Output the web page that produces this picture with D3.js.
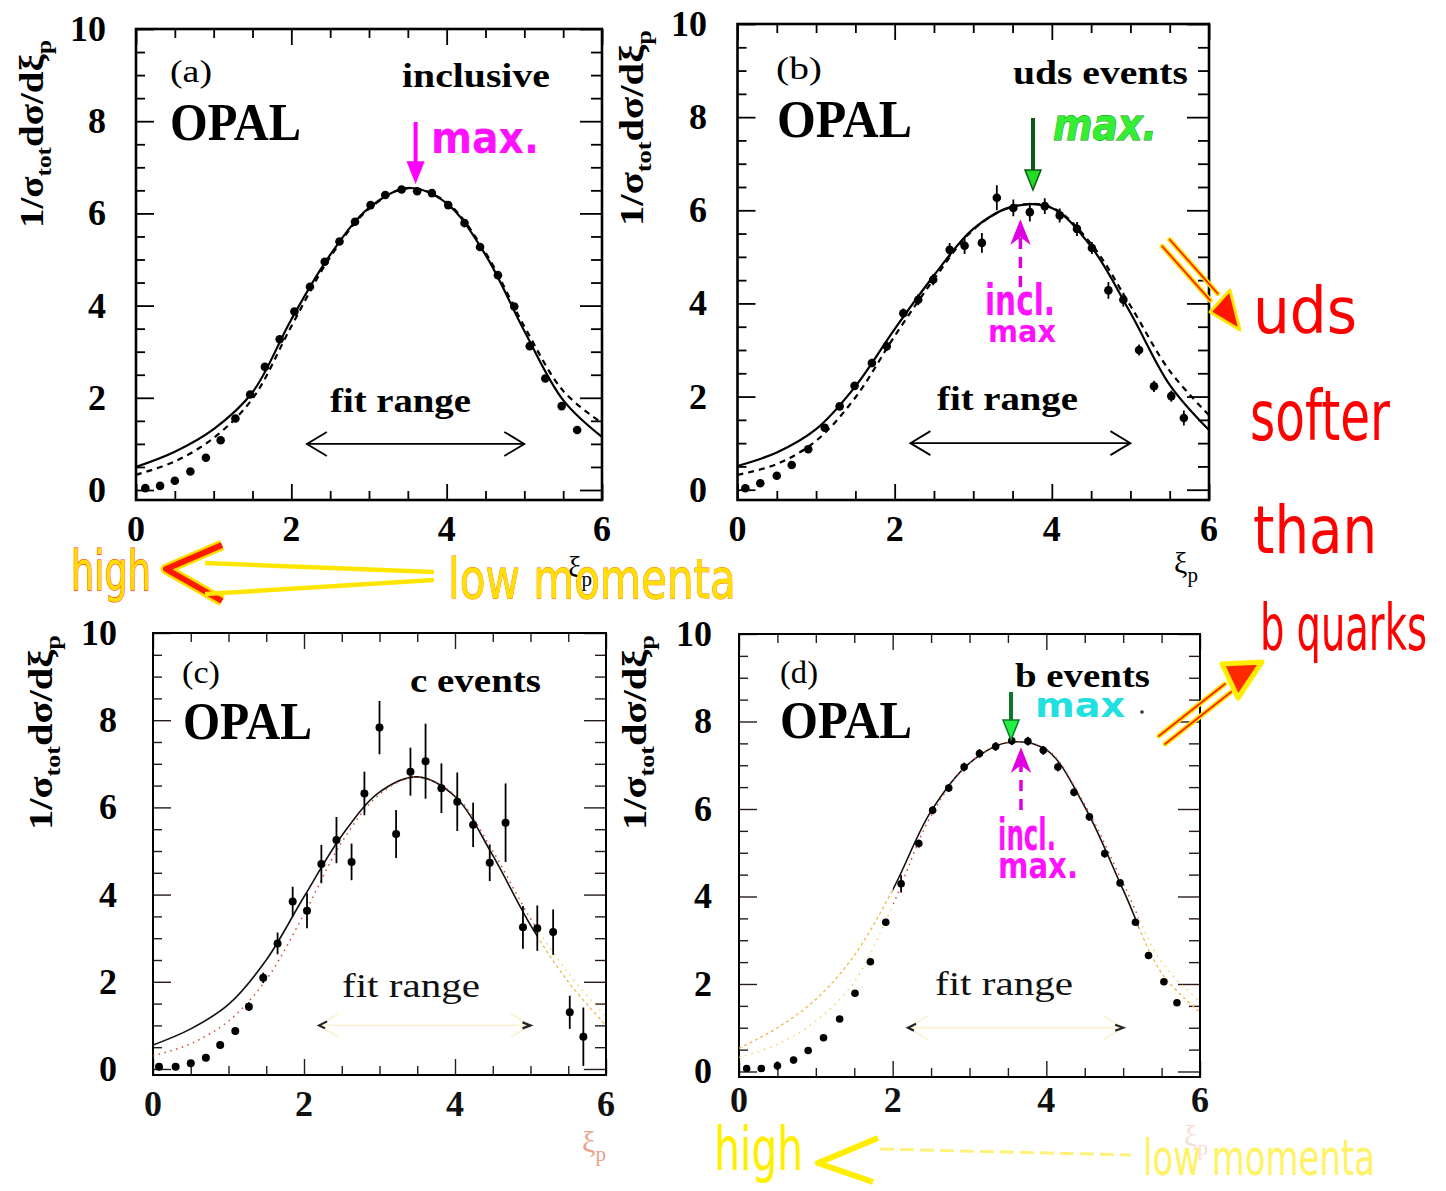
<!DOCTYPE html>
<html>
<head>
<meta charset="utf-8">
<script src="https://cdn.jsdelivr.net/npm/d3@7"></script>
<style>
  body { margin: 0; background: #fff; }
  svg { display: block; }
</style>
</head>
<body>
<svg id="fig" width="1446" height="1191"></svg>
<script>
// ---- measured spectra: ξp positions and 1/σ dσ/dξp ----
const inclusiveXi   = [0.12, 0.31, 0.50, 0.70, 0.90, 1.09, 1.28, 1.47, 1.66, 1.85, 2.04, 2.24, 2.43, 2.62, 2.82,
                       3.02, 3.21, 3.42, 3.62, 3.81, 4.02, 4.23, 4.43, 4.66, 4.87, 5.07, 5.27, 5.48, 5.68];
const inclusiveVals = [0.04, 0.09, 0.20, 0.40, 0.70, 1.08, 1.55, 2.07, 2.67, 3.27, 3.87, 4.41, 4.95, 5.39, 5.82,
                       6.18, 6.40, 6.52, 6.48, 6.44, 6.18, 5.79, 5.27, 4.66, 3.98, 3.12, 2.42, 1.82, 1.30];

const udsXi   = [0.10, 0.29, 0.50, 0.69, 0.90, 1.11, 1.30, 1.49, 1.71, 1.90, 2.11, 2.30, 2.49, 2.70, 2.89,
                 3.11, 3.30, 3.51, 3.72, 3.91, 4.10, 4.32, 4.51, 4.72, 4.91, 5.11, 5.30, 5.52, 5.68];
const udsVals = [0.03, 0.14, 0.30, 0.53, 0.87, 1.33, 1.79, 2.23, 2.72, 3.08, 3.79, 4.08, 4.51, 5.15, 5.24,
                 5.30, 6.27, 6.05, 5.96, 6.09, 5.89, 5.60, 5.19, 4.28, 4.08, 3.00, 2.22, 2.01, 1.54];
const udsErr  = [0.03, 0.04, 0.05, 0.06, 0.07, 0.08, 0.08, 0.08, 0.09, 0.10, 0.10, 0.12, 0.12, 0.15, 0.18,
                 0.21, 0.27, 0.18, 0.20, 0.17, 0.15, 0.15, 0.13, 0.18, 0.15, 0.12, 0.12, 0.12, 0.16];

const charmXi   = [0.08, 0.30, 0.50, 0.70, 0.89, 1.09, 1.27, 1.46, 1.65, 1.85, 2.04, 2.23, 2.43, 2.63, 2.80,
                   3.00, 3.22, 3.41, 3.61, 3.82, 4.03, 4.24, 4.46, 4.67, 4.90, 5.09, 5.30, 5.52, 5.70];
const charmVals = [0.05, 0.05, 0.13, 0.26, 0.55, 0.87, 1.43, 2.09, 2.88, 3.84, 3.63, 4.70, 5.25, 4.75, 6.32,
                   7.83, 5.39, 6.82, 7.06, 6.44, 6.13, 5.60, 4.73, 5.65, 3.25, 3.23, 3.14, 1.30, 0.74];
const charmErr  = [0.02, 0.02, 0.03, 0.04, 0.05, 0.07, 0.10, 0.12, 0.25, 0.34, 0.40, 0.44, 0.53, 0.42, 0.50,
                   0.61, 0.55, 0.55, 0.86, 0.57, 0.67, 0.51, 0.42, 0.90, 0.49, 0.52, 0.52, 0.38, 0.67];

const bottomXi   = [0.10, 0.29, 0.50, 0.71, 0.90, 1.10, 1.31, 1.51, 1.71, 1.91, 2.11, 2.34, 2.52, 2.73, 2.93,
                    3.13, 3.34, 3.55, 3.76, 3.96, 4.15, 4.36, 4.56, 4.76, 4.96, 5.16, 5.33, 5.53, 5.70];
const bottomVals = [0.07, 0.07, 0.13, 0.26, 0.48, 0.77, 1.20, 1.79, 2.51, 3.41, 4.29, 5.21, 5.97, 6.48, 6.96,
                    7.27, 7.43, 7.56, 7.55, 7.34, 6.96, 6.38, 5.82, 4.98, 4.31, 3.41, 2.65, 2.05, 1.57];
const bottomErr  = [0.03, 0.03, 0.10, 0.04, 0.05, 0.05, 0.06, 0.06, 0.07, 0.08, 0.20, 0.09, 0.09, 0.09, 0.10,
                    0.10, 0.10, 0.10, 0.10, 0.10, 0.10, 0.09, 0.09, 0.09, 0.08, 0.08, 0.08, 0.07, 0.07];

// ---- fitted curves (solid) and alternative fits (dashed), sampled in ξp ----
const curveXi = [0, 0.5, 1, 1.5, 2, 2.5, 3, 3.5, 4, 4.5, 5, 5.5, 6];
const inclusiveFit    = [0.50, 0.83, 1.32, 2.12, 3.70, 5.10, 6.12, 6.55, 6.22, 5.10, 3.45, 1.95, 1.15];
const inclusiveFitAlt = [0.33, 0.62, 1.13, 1.98, 3.55, 5.05, 6.10, 6.55, 6.24, 5.15, 3.55, 2.15, 1.45];
const udsFit          = [0.51, 0.80, 1.30, 2.22, 3.45, 4.60, 5.60, 6.08, 6.05, 5.22, 3.80, 2.25, 1.28];
const udsFitAlt       = [0.32, 0.55, 1.05, 1.98, 3.30, 4.52, 5.58, 6.08, 6.06, 5.28, 3.95, 2.55, 1.60];
const charmFit        = [0.55, 0.92, 1.48, 2.50, 3.95, 5.35, 6.35, 6.70, 6.25, 4.90, 3.30, 2.00, 1.00];
const charmFitAlt     = [0.30, 0.58, 1.10, 2.05, 3.55, 5.20, 6.30, 6.70, 6.28, 5.00, 3.45, 2.20, 1.20];
const bottomFit       = [0.53, 1.00, 1.65, 2.65, 4.15, 5.95, 7.05, 7.52, 7.35, 6.05, 4.15, 2.25, 1.35];
const bottomFitAlt    = [0.32, 0.62, 1.15, 2.05, 3.80, 5.85, 7.05, 7.52, 7.37, 6.10, 4.30, 2.50, 1.60];

// ---- axes ----
const xTickLabels = [0, 2, 4, 6];
const yTickLabels = [0, 2, 4, 6, 8, 10];
const xMinorTicks = [0.5, 1, 1.5, 2.5, 3, 3.5, 4.5, 5, 5.5];
const yMinorTicks = [0.5, 1, 1.5, 2.5, 3, 3.5, 4.5, 5, 5.5, 6.5, 7, 7.5, 8.5, 9, 9.5];
const fitRange = [2.2, 5.0];
const fitArrowLevel = 1.0;

// positions of the fitted maxima marked by hand
const inclusivePeakXi = 3.6;
const udsPeakXi = 3.76;
const bottomPeakXi = 3.54;
const inclusivePeakInB = 3.67;

const svg = d3.select("#fig");
const serif = "'Liberation Serif', 'DejaVu Serif', serif";
const hand = "'DejaVu Sans', sans-serif";

// place a text so its natural width is stretched/compressed to `len`
function fitWidth(sel, x, y, len) {
  const w = sel.node().getComputedTextLength();
  sel.attr("x", 0).attr("y", 0).attr("transform", `translate(${x},${y}) scale(${len / w},1)`);
  return sel;
}

const panels = [
  { id: "a", tag: "(a)", title: "inclusive", xs: inclusiveXi, vals: inclusiveVals, err: null,
    fit: inclusiveFit, alt: inclusiveFitAlt, altDash: "6,5",
    box: { l: 136, r: 602, t: 29, b: 500 }, yMin: -0.217, r: 4.3, lw: 2.2,
    tagPos: [170, 82, 42], opalPos: [170, 140, 131], titlePos: [402, 87, 148], fitPos: [330, 412, 141],
    yLabX: 106, xLabY: 541, yTitle: [43, 228, 188], xi: [568, 577], faded: false },
  { id: "b", tag: "(b)", title: "uds events", xs: udsXi, vals: udsVals, err: udsErr,
    fit: udsFit, alt: udsFitAlt, altDash: "6,5",
    box: { l: 737.5, r: 1209, t: 24, b: 500 }, yMin: -0.221, r: 4.3, lw: 2.2,
    tagPos: [776, 79, 46], opalPos: [777, 137, 135], titlePos: [1013, 84, 175], fitPos: [937, 410, 141],
    yLabX: 707, xLabY: 541, yTitle: [643, 226, 196], xi: [1174, 573], faded: false },
  { id: "c", tag: "(c)", title: "c events", xs: charmXi, vals: charmVals, err: charmErr,
    fit: charmFit, alt: charmFitAlt, altDash: "1.5,4.5",
    box: { l: 153, r: 606, t: 633, b: 1075 }, yMin: -0.138, r: 4.0, lw: 1.6,
    tagPos: [182, 683, 38], opalPos: [183, 739, 129], titlePos: [410, 692, 131], fitPos: [342, 997, 138],
    yLabX: 117, xLabY: 1116, yTitle: [52, 830, 195], xi: [582, 1152], faded: true, fade: [[5.1, 6]] },
  { id: "d", tag: "(d)", title: "b events", xs: bottomXi, vals: bottomVals, err: bottomErr,
    fit: bottomFit, alt: bottomFitAlt, altDash: "1.5,4.5",
    box: { l: 739, r: 1200, t: 634, b: 1077 }, yMin: -0.126, r: 3.8, lw: 1.6,
    tagPos: [780, 683, 38], opalPos: [780, 738, 132], titlePos: [1015, 687, 135], fitPos: [935, 995, 138],
    yLabX: 712, xLabY: 1112, yTitle: [646, 830, 195], xi: [1184, 1146], faded: true, fade: [[0, 2.0], [5.2, 6]] }
];

const defs = svg.append("defs");

panels.forEach(p => {
  const { l, r, t, b } = p.box;
  const x = d3.scaleLinear().domain([0, 6]).range([l, r]);
  const y = d3.scaleLinear().domain([p.yMin, 10]).range([b, t]);
  p.x = x; p.y = y;
  const g = svg.append("g").attr("class", "panel-" + p.id);

  // clip to the frame
  defs.append("clipPath").attr("id", "clip-" + p.id)
    .append("rect").attr("x", l).attr("y", t).attr("width", r - l).attr("height", b - t);

  // inward ticks on all four sides
  const tickCol = p.faded ? "#2a1a1a" : "#000";
  const mk = (axisFn, scale, vals, len, tr) => {
    const ax = g.append("g").attr("transform", tr)
      .call(axisFn(scale).tickValues(vals).tickSize(len).tickFormat(""));
    ax.select(".domain").remove();
    ax.selectAll("line").attr("stroke", tickCol).attr("stroke-width", p.faded ? 1.4 : 1.8);
  };
  mk(d3.axisBottom, x, xTickLabels, -16, `translate(0,${b})`);
  mk(d3.axisBottom, x, xMinorTicks, -9, `translate(0,${b})`);
  mk(d3.axisTop, x, xTickLabels, -16, `translate(0,${t})`);
  mk(d3.axisTop, x, xMinorTicks, -9, `translate(0,${t})`);
  mk(d3.axisLeft, y, yTickLabels, -18, `translate(${l},0)`);
  mk(d3.axisLeft, y, yMinorTicks, -9, `translate(${l},0)`);
  mk(d3.axisRight, y, yTickLabels, -22, `translate(${r},0)`);
  mk(d3.axisRight, y, yMinorTicks, -11, `translate(${r},0)`);

  // frame
  g.append("rect").attr("x", l).attr("y", t).attr("width", r - l).attr("height", b - t)
    .attr("fill", "none").attr("stroke", "#000").attr("stroke-width", p.faded ? 2 : 2.6);

  // tick labels
  g.append("g").selectAll("text").data(yTickLabels).join("text")
    .attr("x", p.yLabX).attr("y", d => y(d) + 12)
    .attr("text-anchor", "end").attr("font-family", serif).attr("font-weight", "bold")
    .attr("font-size", 36).text(d => d);
  g.append("g").selectAll("text").data(xTickLabels).join("text")
    .attr("x", d => x(d)).attr("y", p.xLabY)
    .attr("text-anchor", "middle").attr("font-family", serif).attr("font-weight", "bold")
    .attr("font-size", 36).attr("fill", p.faded ? "#111" : "#000").text(d => d);

  // y-axis title 1/σtot dσ/dξp
  const yt = g.append("text").attr("font-family", serif).attr("font-weight", "bold")
    .attr("font-size", 34).attr("fill", "#000");
  yt.append("tspan").text("1/σ");
  yt.append("tspan").attr("font-size", 22).attr("dy", 8).text("tot");
  yt.append("tspan").attr("dy", -8).text("dσ/dξ");
  yt.append("tspan").attr("font-size", 22).attr("dy", 8).text("p");
  const ytw = yt.node().getComputedTextLength();
  yt.attr("transform", `translate(${p.yTitle[0]},${p.yTitle[1]}) rotate(-90) scale(${p.yTitle[2] / ytw},1)`);

  // x-axis title ξp
  const xt = g.append("text").attr("x", p.xi[0]).attr("y", p.xi[1])
    .attr("font-family", serif).attr("font-size", 30)
    .attr("fill", p.faded ? "#e07a5a" : "#000").attr("opacity", p.faded ? (p.id === "d" ? 0.25 : 0.7) : 1);
  xt.append("tspan").text("ξ");
  xt.append("tspan").attr("font-size", 21).attr("dy", 9).text("p");

  // panel texts
  const txt = (pos, s, size, weight, fill) => fitWidth(g.append("text")
    .attr("font-family", serif).attr("font-size", size).attr("font-weight", weight)
    .attr("fill", fill || "#000").text(s), pos[0], pos[1], pos[2]);
  txt(p.tagPos, p.tag, 32, "normal");
  txt(p.opalPos, "OPAL", 52, "bold");
  txt(p.titlePos, p.title, 33, "bold");
  txt(p.fitPos, "fit range", 34, p.faded ? "normal" : "bold", p.faded ? "#111" : "#000");

  // fit range double arrow
  const ay = y(fitArrowLevel), ax0 = x(fitRange[0]), ax1 = x(fitRange[1]);
  const arrowCol = p.faded ? "#faf3d6" : "#000";
  g.append("line").attr("x1", ax0).attr("x2", ax1).attr("y1", ay).attr("y2", ay)
    .attr("stroke", arrowCol).attr("stroke-width", 1.8);
  const chevron = (xt0, dir) => g.append("path")
    .attr("d", `M${xt0 + dir * 20},${ay - 12} L${xt0},${ay} L${xt0 + dir * 20},${ay + 12}`)
    .attr("fill", "none").attr("stroke", arrowCol).attr("stroke-width", 1.8);
  chevron(ax0, 1); chevron(ax1, -1);
  if (p.faded) {
    g.append("path").attr("d", `M${ax0 + 8},${ay - 4} L${ax0},${ay} L${ax0 + 6},${ay + 3}`)
      .attr("stroke", "#222").attr("stroke-width", 2.2).attr("fill", "none");
    g.append("path").attr("d", `M${ax1 - 8},${ay - 3} L${ax1},${ay} L${ax1 - 8},${ay + 3}`)
      .attr("stroke", "#222").attr("stroke-width", 2.2).attr("fill", "none");
  }

  // curves
  const line = d3.line().x(d => x(d[0])).y(d => y(d[1])).curve(d3.curveCatmullRom.alpha(0.5));
  const fitPts = curveXi.map((v, i) => [v, p.fit[i]]);
  const altPts = curveXi.map((v, i) => [v, p.alt[i]]);
  const cg = g.append("g").attr("clip-path", `url(#clip-${p.id})`);

  if (p.fade) {
    // pale stretches of the curves
    const keepId = "keep-" + p.id, fadeId = "fade-" + p.id;
    const kc = defs.append("clipPath").attr("id", keepId);
    const fc = defs.append("clipPath").attr("id", fadeId);
    let last = 0;
    p.fade.forEach(([f0, f1]) => {
      if (f0 > last) kc.append("rect").attr("x", x(last)).attr("y", t).attr("width", x(f0) - x(last)).attr("height", b - t);
      fc.append("rect").attr("x", x(f0)).attr("y", t).attr("width", x(f1) - x(f0)).attr("height", b - t);
      last = f1;
    });
    if (last < 6) kc.append("rect").attr("x", x(last)).attr("y", t).attr("width", x(6) - x(last)).attr("height", b - t);
    const keep = cg.append("g").attr("clip-path", `url(#${keepId})`);
    const fade = cg.append("g").attr("clip-path", `url(#${fadeId})`);
    keep.append("path").attr("d", line(fitPts)).attr("fill", "none").attr("stroke", "#111").attr("stroke-width", p.lw);
    keep.append("path").attr("d", line(altPts)).attr("fill", "none").attr("stroke", "#c8502a")
      .attr("stroke-width", 1.5).attr("stroke-dasharray", p.altDash);
    fade.append("path").attr("d", line(fitPts)).attr("fill", "none").attr("stroke", "#f0b848")
      .attr("stroke-width", 1.3).attr("stroke-dasharray", "3,3");
    fade.append("path").attr("d", line(altPts)).attr("fill", "none").attr("stroke", "#f2cf55")
      .attr("stroke-width", 1.3).attr("stroke-dasharray", "1.5,5");
  } else {
    cg.append("path").attr("d", line(fitPts)).attr("fill", "none").attr("stroke", "#000").attr("stroke-width", p.lw);
    cg.append("path").attr("d", line(altPts)).attr("fill", "none").attr("stroke", "#000")
      .attr("stroke-width", p.lw).attr("stroke-dasharray", p.altDash);
  }

  // error bars and data points
  const pts = p.xs.map((v, i) => ({ xi: v, v: p.vals[i], e: p.err ? p.err[i] : 0 }));
  cg.append("g").selectAll("line").data(pts.filter(d => d.e > 0)).join("line")
    .attr("x1", d => x(d.xi)).attr("x2", d => x(d.xi))
    .attr("y1", d => y(d.v - d.e)).attr("y2", d => y(d.v + d.e))
    .attr("stroke", "#000").attr("stroke-width", 1.8);
  cg.append("g").selectAll("circle").data(pts).join("circle")
    .attr("cx", d => x(d.xi)).attr("cy", d => y(d.v)).attr("r", p.r).attr("fill", "#000");
});

// ---- handwritten annotations ----
const A = panels[0], B = panels[1], D = panels[3];
const note = svg.append("g").attr("class", "notes");

function handText(xp, yp, s, size, fill, len, opts = {}) {
  const t = note.append("text")
    .attr("font-family", hand).attr("font-size", size).attr("fill", fill)
    .attr("font-weight", opts.weight || "bold").attr("font-style", opts.italic ? "italic" : "normal")
    .text(s);
  if (opts.stroke) t.attr("stroke", opts.stroke).attr("stroke-width", opts.sw || 1).attr("paint-order", "stroke");
  if (opts.opacity) t.attr("opacity", opts.opacity);
  return fitWidth(t, xp, yp, len);
}
function downArrow(xp, y0, y1, shaft, head) {
  note.append("line").attr("x1", xp).attr("x2", xp).attr("y1", y0).attr("y2", y1 - 14)
    .attr("stroke", shaft).attr("stroke-width", 4);
  note.append("path").attr("d", `M${xp - 8},${y1 - 20} L${xp + 8},${y1 - 20} L${xp},${y1} Z`)
    .attr("fill", head).attr("stroke", shaft).attr("stroke-width", 1.5);
}
function upDashedArrow(xp, y0, y1, col) {
  note.append("line").attr("x1", xp).attr("x2", xp).attr("y1", y0).attr("y2", y1 + 14)
    .attr("stroke", col).attr("stroke-width", 3.5).attr("stroke-dasharray", "11,8");
  note.append("path").attr("d", `M${xp - 8},${y1 + 20} L${xp},${y1} L${xp + 8},${y1 + 20} L${xp},${y1 + 14} Z`)
    .attr("fill", col).attr("stroke", col).attr("stroke-width", 2);
}

// (a) maximum of the inclusive spectrum
downArrow(A.x(inclusivePeakXi), 122, 182, "#ff00ff", "#ff00ff");
handText(431, 153, "max.", 44, "#ff10ff", 108);

// (b) uds maximum and the inclusive one for comparison
downArrow(B.x(udsPeakXi), 118, 190, "#0a5a1a", "#22dd22");
handText(1053, 140, "max.", 44, "#33ee33", 104, { italic: true, stroke: "#118811", sw: 1 });
upDashedArrow(B.x(inclusivePeakXi), 287, 222, "#e000e0");
handText(985, 315, "incl.", 42, "#ff10ff", 70);
handText(988, 342, "max", 30, "#ff10ff", 68);

// (d) b maximum and the inclusive one
downArrow(D.x(bottomPeakXi), 692, 740, "#0a7a2a", "#22ee44");
handText(1035, 717, "max", 34, "#22e0e0", 90);
note.append("circle").attr("cx", 1142).attr("cy", 712).attr("r", 1.8).attr("fill", "#333");
upDashedArrow(D.x(inclusivePeakInB), 810, 750, "#e000e0");
handText(998, 850, "incl.", 44, "#ff10ff", 58);
handText(998, 878, "max.", 36, "#ff10ff", 80);

// right margin: uds spectrum is softer than the b spectrum
function doubleArrow(x0, y0, x1, y1, gap) {
  const dx = x1 - x0, dy = y1 - y0, L = Math.hypot(dx, dy);
  const nx = -dy / L * gap, ny = dx / L * gap;
  [[nx, ny], [-nx, -ny]].forEach(([ox, oy]) => {
    note.append("line").attr("x1", x0 + ox).attr("y1", y0 + oy).attr("x2", x1 + ox).attr("y2", y1 + oy)
      .attr("stroke", "#ffe600").attr("stroke-width", 5).attr("stroke-linecap", "round");
    note.append("line").attr("x1", x0 + ox).attr("y1", y0 + oy).attr("x2", x1 + ox).attr("y2", y1 + oy)
      .attr("stroke", "#ff2200").attr("stroke-width", 1.8).attr("stroke-linecap", "round");
  });
}
doubleArrow(1166, 243, 1214, 297, 5);
note.append("path").attr("d", "M1210,312 L1230,290 L1240,330 Z")
  .attr("fill", "#ff1500").attr("stroke", "#ffe600").attr("stroke-width", 3).attr("stroke-linejoin", "round");
doubleArrow(1162, 740, 1228, 688, 5);
note.append("path").attr("d", "M1222,664 L1262,662 L1238,698 Z")
  .attr("fill", "#ff2a00").attr("stroke", "#ffee00").attr("stroke-width", 5).attr("stroke-linejoin", "round");

handText(1253, 333, "uds", 64, "#ff0000", 104, { weight: "normal" });
handText(1250, 440, "softer", 70, "#ff0000", 140, { weight: "normal" });
handText(1253, 553, "than", 66, "#ff0000", 124, { weight: "normal" });
handText(1260, 650, "b quarks", 64, "#ff0000", 167, { weight: "normal" });

// under (a): high ← low momenta
handText(71, 590, "high", 56, "#ffdd00", 80, { weight: "normal", stroke: "#ff3300", sw: 1.2 });
note.append("path").attr("d", "M222,545 L166,569 L222,601")
  .attr("fill", "none").attr("stroke", "#ffe000").attr("stroke-width", 11).attr("stroke-linejoin", "round");
note.append("path").attr("d", "M222,545 L166,569 L222,601")
  .attr("fill", "none").attr("stroke", "#ff1a00").attr("stroke-width", 6).attr("stroke-linejoin", "round");
note.append("line").attr("x1", 205).attr("y1", 563).attr("x2", 434).attr("y2", 572)
  .attr("stroke", "#ffe600").attr("stroke-width", 4.5);
note.append("line").attr("x1", 205).attr("y1", 594).attr("x2", 434).attr("y2", 580)
  .attr("stroke", "#ffe600").attr("stroke-width", 4.5);
handText(448, 598, "low momenta", 56, "#ffe000", 288, { weight: "normal", stroke: "#ff6a00", sw: 0.8 });

// under (d): high ← low momenta
handText(714, 1170, "high", 60, "#ffee00", 89, { weight: "normal" });
note.append("path").attr("d", "M878,1138 L818,1163 L873,1182")
  .attr("fill", "none").attr("stroke", "#ffee00").attr("stroke-width", 6).attr("stroke-linejoin", "round");
note.append("line").attr("x1", 880).attr("y1", 1149).attr("x2", 1131).attr("y2", 1155)
  .attr("stroke", "#fff27a").attr("stroke-width", 3).attr("stroke-dasharray", "14,6");
handText(1143, 1175, "low momenta", 50, "#fff04a", 232, { weight: "normal", opacity: 0.85 });
</script>
</body>
</html>
